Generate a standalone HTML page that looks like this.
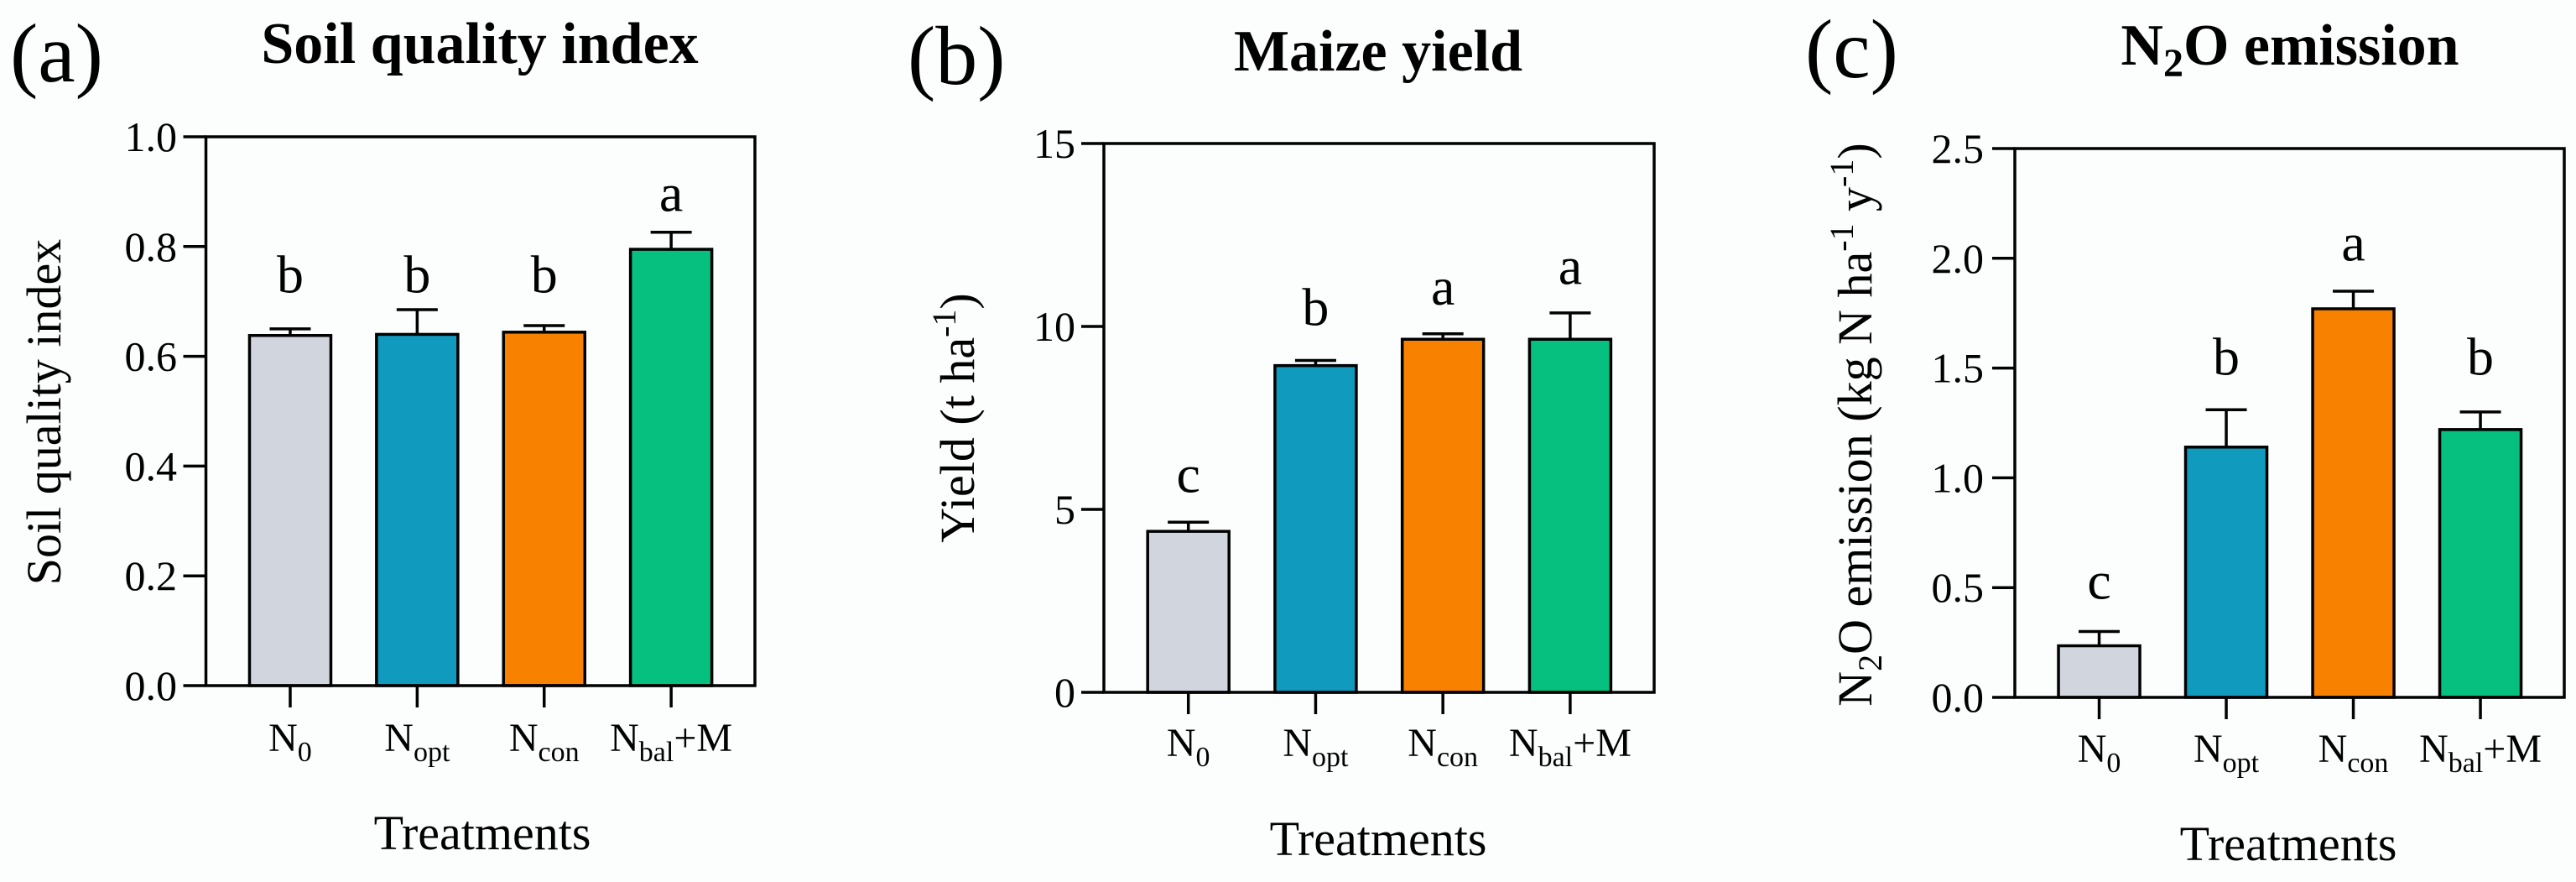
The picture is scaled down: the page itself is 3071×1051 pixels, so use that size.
<!DOCTYPE html>
<html><head><meta charset="utf-8"><style>
html,body{margin:0;padding:0;background:#fcfefe;}
svg{display:block;font-family:"Liberation Serif",serif;}
</style></head><body>
<svg id="fig" width="3071" height="1051" viewBox="0 0 3071 1051"></svg>
<script>
const categories = ["N0","Nopt","Ncon","Nbal+M"];
const colors = ["#d0d5de","#109bbe","#f88200","#05c07e"];
const soilValues = [0.638,0.640,0.644,0.795];
const soilErrTop = [0.650,0.685,0.656,0.826];
const soilLetters = ["b","b","b","a"];
const soilLetterY = [0.716,0.716,0.716,0.865];
const soilTicks = ["0.0","0.2","0.4","0.6","0.8","1.0"];
const yieldValues = [4.40,8.93,9.65,9.65];
const yieldErrTop = [4.65,9.07,9.80,10.37];
const yieldLetters = ["c","b","a","a"];
const yieldLetterY = [5.47,10.03,10.6,11.16];
const yieldTicks = ["0","5","10","15"];
const n2oValues = [0.235,1.14,1.77,1.22];
const n2oErrTop = [0.30,1.31,1.85,1.30];
const n2oLetters = ["c","b","a","b"];
const n2oLetterY = [0.45,1.47,1.99,1.47];
const n2oTicks = ["0.0","0.5","1.0","1.5","2.0","2.5"];

const NS="http://www.w3.org/2000/svg";
const svg=document.getElementById('fig');
function mk(tag,attrs,parent){const e=document.createElementNS(NS,tag);for(const k in attrs)e.setAttribute(k,attrs[k]);(parent||svg).appendChild(e);return e;}

function panel(cfg, vals, errs, letters, letterY, ticks){
  const g=mk('g',{});
  
  
  const ymax=parseFloat(ticks[ticks.length-1]);
  const y=v=>cfg.bottom-(v/ymax)*(cfg.bottom-cfg.top);
  const step=(cfg.right-cfg.left)/4.33;
  const x=i=>cfg.left+cfg.right*0+ (cfg.right-cfg.left)*(0.1535+0.2313*i);
  const bw=97;
  // panel letter
  const pl=mk('text',{x:cfg.plX,y:cfg.plY,'font-size':100},g);pl.textContent=cfg.pl;
  
  
  const tt=mk('text',{x:cfg.titleX,y:cfg.titleY,'font-size':70,'font-weight':'bold','text-anchor':'middle'},g);
  tt.innerHTML=cfg.title;
  
  
  // bars
  vals.forEach((v,i)=>{
    const cx=x(i);
    const r=mk('rect',{x:cx-bw/2,y:y(v),width:bw,height:cfg.bottom-y(v),fill:colors[i],stroke:'#000','stroke-width':3.5},g);
    
    
    const e=mk('path',{d:`M${cx},${y(v)}V${y(errs[i])}M${cx-24.5},${y(errs[i])}H${cx+24.5}`,stroke:'#000','stroke-width':3.5,fill:'none'},g);
    
    
    const l=mk('text',{x:cx,y:y(letterY[i]),'font-size':64,'text-anchor':'middle'},g);l.textContent=letters[i];
    
    
    const tk=mk('line',{x1:cx,x2:cx,y1:cfg.bottom,y2:cfg.bottom+26,stroke:'#000','stroke-width':3.5},g);
    
    
    const ct=mk('text',{x:cx,y:cfg.catY,'font-size':48,'text-anchor':'middle'},g);
    const lab=categories[i];
    const sub=lab.slice(1).replace('+M','');
    ct.innerHTML='N<tspan font-size="34" dy="12">'+sub+'</tspan>'+(lab.includes('+M')?'<tspan dy="-12">+M</tspan>':'');
    
    
  });
  // box
  const box=mk('rect',{x:cfg.left,y:cfg.top,width:cfg.right-cfg.left,height:cfg.bottom-cfg.top,fill:'none',stroke:'#000','stroke-width':3.5},g);
  
  
  ticks.forEach(t=>{
    const ty=y(parseFloat(t));
    const tl=mk('line',{x1:cfg.left-27,x2:cfg.left,y1:ty,y2:ty,stroke:'#000','stroke-width':3.5},g);
    
    
    const tx=mk('text',{x:cfg.tickX,y:ty+17,'font-size':50,'text-anchor':'end'},g);tx.textContent=t;
    
    
  });
  const yt=mk('text',{x:0,y:0,'font-size':58,'text-anchor':'middle',transform:`translate(${cfg.ytX},${cfg.ytY}) rotate(-90)`},g);
  yt.innerHTML=cfg.yTitle;
  
  
  const xt=mk('text',{x:cfg.xtX,y:cfg.xtY,'font-size':58,'text-anchor':'middle'},g);xt.textContent='Treatments';
  
  
}

panel({id:'soil',pl:'(a)',plX:12,plY:97,title:'Soil quality index',titleX:572,titleY:75,
  left:245.5,right:900,top:163,bottom:817,tickX:211,catY:895,ytX:72,ytY:491,xtX:575,xtY:1012,
  yTitle:'Soil quality index'},soilValues,soilErrTop,soilLetters,soilLetterY,soilTicks);
panel({id:'yield',pl:'(b)',plX:1082,plY:100,title:'Maize yield',titleX:1643,titleY:84,
  left:1316,right:1972,top:171,bottom:825,tickX:1282,catY:901,ytX:1161,ytY:498,xtX:1643,xtY:1019,
  yTitle:'Yield (t ha<tspan font-size="40" dy="-22">-1</tspan><tspan dy="22">)</tspan>'},yieldValues,yieldErrTop,yieldLetters,yieldLetterY,yieldTicks);
panel({id:'n2o',pl:'(c)',plX:2152,plY:92,title:'N<tspan font-size="48" dy="14">2</tspan><tspan dy="-14">O emission</tspan>',titleX:2730,titleY:77,
  left:2402,right:3057,top:177,bottom:831,tickX:2365,catY:908,ytX:2231,ytY:506,xtX:2728,xtY:1025,
  yTitle:'N<tspan font-size="40" dy="12">2</tspan><tspan dy="-12">O emission (kg N ha</tspan><tspan font-size="40" dy="-22">-1</tspan><tspan dy="22"> y</tspan><tspan font-size="40" dy="-22">-1</tspan><tspan dy="22">)</tspan>'},n2oValues,n2oErrTop,n2oLetters,n2oLetterY,n2oTicks);
</script>
</body></html>
